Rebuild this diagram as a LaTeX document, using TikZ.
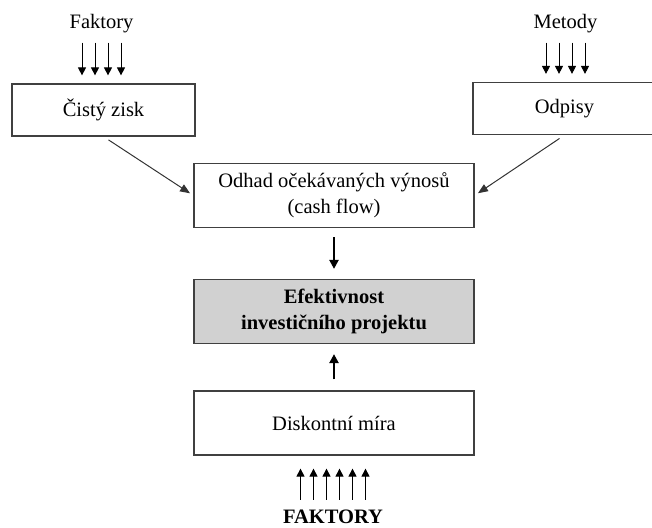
\documentclass[tikz,border=0pt]{standalone}
\usepackage{fontspec}
\setmainfont{Liberation Serif}
\usepackage{tikz}
\usetikzlibrary{arrows.meta}

\begin{document}
\begin{tikzpicture}[x=1pt, y=-1pt,
        box/.style={draw=black!75, line width=1.2pt, minimum width=183pt, minimum height=52pt, inner sep=0pt},
        wbox/.style={draw=black!75, line width=1.2pt, minimum width=280pt, minimum height=64pt, inner sep=0pt, align=center},
        fin/.style={-{Triangle[length=8pt,width=8pt]}, line width=0.9pt},
        diag/.style={-{Triangle[length=10pt,width=8pt]}, line width=1pt, black!80},
        thk/.style={-{Triangle[length=9pt,width=9pt]}, line width=2.2pt},
        lbl/.style={inner sep=0pt}]
    \useasboundingbox (0,0) rectangle (652,527);
    \fontsize{20.5}{26}\selectfont

    % Horni boxy
    \node[box] (zisk) at (103.5,110) {Čistý zisk};
    \node[box] (odpisy) at (564.5,108.5) {Odpisy};
    \node[lbl] (fakt) at (101.5,24) {Faktory};
    \node[lbl] (met) at (565.5,24) {Metody};

    % Sipky do hornich boxu
    \foreach \dx in {-19.5,-6.5,6.5,19.5} {
        \draw[fin, shorten <=9pt, shorten >=8pt] ([xshift=\dx pt]fakt.south) -- ([xshift=\dx pt]fakt.south |- zisk.north);
        \draw[fin, shorten <=9pt, shorten >=8pt] ([xshift=\dx pt]met.south) -- ([xshift=\dx pt]met.south |- odpisy.north);
    }

    % Stredni sloupec
    \node[wbox] (odhad) at (334,195.5) {Odhad očekávaných výnosů\\(cash flow)};
    \node[wbox, fill=black!18, font=\bfseries] (efekt) at (334,311.5) {Efektivnost\\investičního projektu};
    \node[wbox] (disk) at (334,423) {Diskontní míra};
    \node[lbl, font=\bfseries] (faktb) at (333,517) {FAKTORY};

    % Spojnice
    \draw[diag, shorten <=6pt, shorten >=4pt] (zisk.south) -- (odhad.west);
    \draw[diag, shorten <=6pt, shorten >=4pt] (odpisy.south) -- (odhad.east);
    \draw[thk, shorten <=9pt, shorten >=10pt] (odhad.south) -- (efekt.north);
    \draw[thk, shorten <=11pt, shorten >=10pt] (disk.north) -- (efekt.south);

    \foreach \dx in {-32.5,-19.5,-6.5,6.5,19.5,32.5}
        \draw[fin, line width=0.8pt, shorten <=10pt, shorten >=13pt] ([xshift=\dx pt]faktb.north) -- ([xshift=\dx pt]faktb.north |- disk.south);
\end{tikzpicture}
\end{document}
